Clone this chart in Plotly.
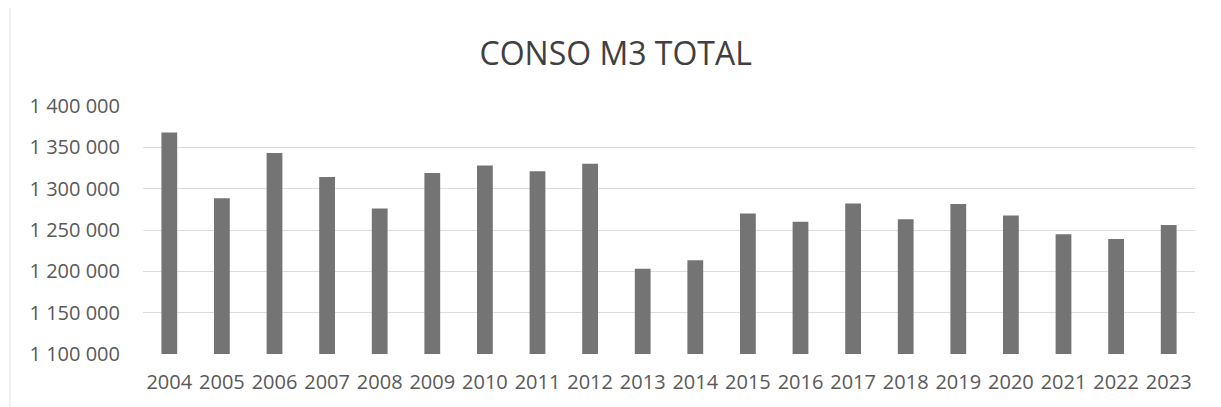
import plotly.graph_objects as go

years = [str(y) for y in range(2004, 2024)]
conso = [1368000, 1288500, 1343000, 1314000, 1276000, 1319000, 1328000, 1321000,
         1330000, 1203000, 1213500, 1270000, 1260000, 1282000, 1263000, 1281500,
         1267500, 1245000, 1239000, 1256000]
tick_vals = [1100000, 1150000, 1200000, 1250000, 1300000, 1350000, 1400000]
tick_text = [f"{v:,}".replace(",", " ") for v in tick_vals]

FONT = "Open Sans"
fig = go.Figure(go.Bar(x=years, y=conso, marker=dict(color="#747474", line=dict(width=0))))

fig.update_layout(
    width=1213, height=399,
    margin=dict(l=135, r=26, t=98, b=51),
    paper_bgcolor="white", plot_bgcolor="white",
    bargap=0.7,
    showlegend=False,
    title=dict(text="CONSO M3 TOTAL", x=0.501, xanchor="center", y=0.885, yanchor="middle",
               font=dict(family=FONT, size=32, color="#404040")),
    font=dict(family=FONT, color="#595959", size=20),
    xaxis=dict(type="category", showgrid=False, showline=False, ticks="",
               ticklabelstandoff=14,
               tickfont=dict(size=20, color="#595959")),
    yaxis=dict(range=[1100000, 1400000], tickvals=tick_vals, ticktext=tick_text,
               showgrid=True, gridcolor="#dcdcdc", gridwidth=1, zeroline=False,
               showline=False, ticks="", ticklabelstandoff=22,
               tickfont=dict(size=20, color="#595959")),
    shapes=[dict(type="rect", xref="paper", yref="paper", x0=-0.1264, x1=1.0228,
                 y0=-0.26, y1=1.40, line=dict(color="#e3e3e3", width=1), layer="below")],
)

fig.write_html("out.html")
